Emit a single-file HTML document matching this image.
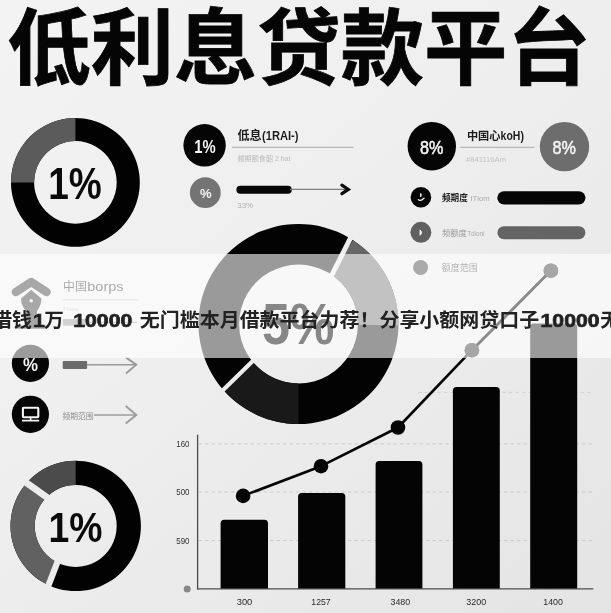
<!DOCTYPE html>
<html lang="zh-CN">
<head>
<meta charset="utf-8">
<title>低利息贷款平台</title>
<style>
html,body{margin:0;padding:0;}
body{width:611px;height:613px;overflow:hidden;position:relative;background:#e8e8e8;font-family:"Liberation Sans", sans-serif;}
#bg{position:absolute;left:0;top:0;width:611px;height:613px;
 background:
  linear-gradient(140deg, #f3f3f3 0%, #efefef 40%, #e9e9e9 75%, #e4e4e4 100%);}
svg{position:absolute;left:0;top:0;display:block;font-family:"Liberation Sans", "Noto Sans CJK SC", sans-serif;will-change:transform;}
#banner{position:absolute;left:0;top:253.6px;width:611px;height:104px;background:rgba(255,255,255,0.6);}
</style>
</head>
<body>
<div id="bg"></div>
<svg id="art" width="611" height="613" viewBox="0 0 611 613">
<text x="7.5" y="78" font-size="83.5" font-weight="700" fill="#050505" stroke="#050505" stroke-width="0.8" textLength="583" lengthAdjust="spacingAndGlyphs">低利息贷款平台</text>
<path d="M75.40 118.00A64.40 64.40 0 1 1 75.39 118.00L75.39 141.10A41.30 41.30 0 1 0 75.40 141.10Z" fill="#020202"/>
<path d="M11.00 182.40A64.40 64.40 0 0 1 75.40 118.00L75.40 141.10A41.30 41.30 0 0 0 34.10 182.40Z" fill="#5b5b5b"/>
<text x="48.2" y="198.9" font-size="44.5" font-weight="700" fill="#0a0a0a" textLength="53.6" lengthAdjust="spacingAndGlyphs">1%</text>
<circle cx="204.6" cy="145.3" r="21.2" fill="#050505"/>
<text x="194.2" y="152.5" font-size="18.6" font-weight="700" fill="#f4f4f4" textLength="21.4" lengthAdjust="spacingAndGlyphs">1%</text>
<text x="237.5" y="140.3" font-size="12.2" font-weight="700" fill="#1c1c1c" textLength="24.2" lengthAdjust="spacingAndGlyphs">低息</text>
<text x="262" y="140.3" font-size="13" font-weight="700" fill="#1c1c1c" textLength="36.5" lengthAdjust="spacingAndGlyphs">(1RAI-)</text>
<path d="M232 147.3H353.5" stroke="#aaa" stroke-width="1"/>
<text x="237.5" y="161.3" font-size="7.1" fill="#b9b9b9" textLength="35.6" lengthAdjust="spacingAndGlyphs">频期额食韶</text>
<text x="274.9" y="161.3" font-size="7" fill="#b9b9b9">2 hat</text>
<circle cx="205.3" cy="192.7" r="15.4" fill="#747474"/>
<text x="205.7" y="197.7" text-anchor="middle" font-size="13.6" font-weight="700" fill="#f4f4f4" textLength="11.6" lengthAdjust="spacingAndGlyphs">%</text>
<path d="M240.4 189.7H287.8" stroke="#060606" stroke-width="8" stroke-linecap="round"/>
<path d="M290 189.4H346" stroke="#808080" stroke-width="1.2"/>
<path d="M341.9 185.2L348.3 189.4L341.9 193.7" fill="none" stroke="#0c0c0c" stroke-width="3.2" stroke-linecap="round" stroke-linejoin="miter"/>
<text x="237.2" y="207.6" font-size="8" fill="#b0b0b0">33%</text>
<circle cx="431.8" cy="146.2" r="24.2" fill="#050505"/>
<text x="420" y="153.9" font-size="19" fill="#f4f4f4" stroke="#f4f4f4" stroke-width="0.55" textLength="23.4" lengthAdjust="spacingAndGlyphs">8%</text>
<circle cx="564.5" cy="146.6" r="24.7" fill="#6d6d6d"/>
<text x="552.4" y="154.2" font-size="19" fill="#f4f4f4" stroke="#f4f4f4" stroke-width="0.55" textLength="23.4" lengthAdjust="spacingAndGlyphs">8%</text>
<text x="466.9" y="140.2" font-size="11.3" font-weight="700" fill="#1c1c1c" textLength="33.7" lengthAdjust="spacingAndGlyphs">中国心</text>
<text x="500.6" y="140.2" font-size="12.5" font-weight="700" fill="#1c1c1c" textLength="23.3" lengthAdjust="spacingAndGlyphs">koH)</text>
<path d="M460.2 147.3H534.5" stroke="#aaa" stroke-width="1"/>
<text x="466" y="162.2" font-size="8" fill="#c2c2c2" textLength="40" lengthAdjust="spacingAndGlyphs">#841116Am</text>
<circle cx="420.9" cy="197.2" r="10.3" fill="#050505"/>
<path d="M420.8 194.1V196.3" stroke="#fff" stroke-width="1.5" stroke-linecap="round"/>
<path d="M418.3 199.6Q420.4 201.6 424 198.2" fill="none" stroke="#fff" stroke-width="1.3" stroke-linecap="round"/>
<text x="442" y="201.2" font-size="8.6" font-weight="700" fill="#222" textLength="25.8" lengthAdjust="spacingAndGlyphs">频期度</text>
<text x="470.4" y="201.2" font-size="8" fill="#aaa" textLength="19.3" lengthAdjust="spacingAndGlyphs">ITlom</text>
<path d="M503.9 197.8H578.9" stroke="#050505" stroke-width="13.2" stroke-linecap="round"/>
<circle cx="420.9" cy="232.3" r="10.5" fill="#606060"/>
<path d="M420 229.9V235.3Q423.2 232.6 420 229.9Z" fill="#fff" stroke="#fff" stroke-width="0.8" stroke-linejoin="round"/>
<text x="442" y="236.2" font-size="8.2" fill="#9a9a9a" textLength="24.8" lengthAdjust="spacingAndGlyphs">频额度</text>
<text x="467.2" y="236.2" font-size="7.8" fill="#aaa" textLength="17.2" lengthAdjust="spacingAndGlyphs">Tdioni</text>
<path d="M503.9 232.7H578.9" stroke="#646464" stroke-width="13" stroke-linecap="round"/>
<circle cx="420.6" cy="267.5" r="7.5" fill="#2c2c2c"/>
<text x="441.8" y="271" font-size="9" fill="#3a3a3a" textLength="35.8" lengthAdjust="spacingAndGlyphs">额度范围</text>
<path d="M15.9 292L31.2 282L46.5 292" fill="none" stroke="#262626" stroke-width="8.6" stroke-linecap="round" stroke-linejoin="round"/>
<path d="M31.2 289.8L41.3 298.6Q41.6 305 37 311V326H26V311Q20.8 305 21.1 298.6Z" fill="#262626"/>
<rect x="14.7" y="325.4" width="32.3" height="3.4" rx="1.5" fill="#262626"/>
<circle cx="31.2" cy="300.7" r="1.8" fill="#eee"/>
<text x="63" y="291.3" font-size="12" fill="#2a2a2a" textLength="23.8" lengthAdjust="spacingAndGlyphs">中国</text>
<text x="87.3" y="291.3" font-size="13" fill="#2a2a2a" textLength="36.3" lengthAdjust="spacingAndGlyphs">borps</text>
<path d="M62.8 299.8H138.7" stroke="#bdbdbd" stroke-width="1"/>
<text x="62.8" y="310.6" font-size="6" fill="#c2c2c2">Thala</text>
<path d="M62.8 319H86.4V325.6H62.8Z" fill="#8c8c8c"/>
<path d="M86 322.3H137" stroke="#9a9a9a" stroke-width="1.2"/>
<circle cx="30.4" cy="363.4" r="18.6" fill="#050505"/>
<text x="30.6" y="370.6" text-anchor="middle" font-size="17.6" font-weight="700" fill="#f4f4f4" textLength="15" lengthAdjust="spacingAndGlyphs">%</text>
<rect x="62.7" y="360.9" width="24.4" height="8" rx="0.8" fill="#6a6a6a"/>
<path d="M87 364.7H135.5" stroke="#9a9a9a" stroke-width="1.5"/>
<path d="M126 357.6L136.3 364.7L126 373.4" fill="none" stroke="#9a9a9a" stroke-width="1.9"/>
<circle cx="30.4" cy="414.3" r="18.6" fill="#050505"/>
<rect x="22.9" y="407.8" width="15.4" height="9.4" rx="0.6" fill="none" stroke="#f4f4f4" stroke-width="2.1"/>
<path d="M22 420.6H39.2M30.6 418V420.6" stroke="#f4f4f4" stroke-width="1.6"/>
<text x="62.6" y="418.5" font-size="7.7" fill="#8c8c8c" textLength="31" lengthAdjust="spacingAndGlyphs">频期范围</text>
<path d="M94 415H135.5" stroke="#9c9c9c" stroke-width="1.5"/>
<path d="M125.7 406L136.3 415L125.7 423.6" fill="none" stroke="#9c9c9c" stroke-width="1.9"/>
<path d="M298.50 224.00A100.00 100.00 0 1 1 298.48 224.00L298.49 264.60A59.40 59.40 0 1 0 298.50 264.60Z" fill="#030303"/>
<path d="M298.50 424.00A100.00 100.00 0 0 1 221.90 388.28L253.00 362.18A59.40 59.40 0 0 0 298.50 383.40Z" fill="#191919"/>
<path d="M352.96 240.13A100.00 100.00 0 0 1 398.49 325.40L357.89 324.83A59.40 59.40 0 0 0 330.85 274.18Z" fill="#666"/>
<path d="M331.01 276.70L351.19 236.66" stroke="#ececec" stroke-width="5.0"/>
<path d="M253.77 359.97L221.87 391.32" stroke="#ececec" stroke-width="4.2"/>
<path d="M75.70 460.70A65.20 65.20 0 1 1 75.69 460.70L75.69 484.90A41.00 41.00 0 1 0 75.70 484.90Z" fill="#020202"/>
<path d="M47.12 584.50A65.20 65.20 0 0 1 28.02 481.43L45.71 497.94A41.00 41.00 0 0 0 57.73 562.75Z" fill="#616161"/>
<path d="M28.02 481.43A65.20 65.20 0 0 1 75.70 460.70L75.70 484.90A41.00 41.00 0 0 0 45.71 497.94Z" fill="#4b4b4b"/>
<path d="M57.99 560.65L47.83 587.05" stroke="#ececec" stroke-width="6.2"/>
<path d="M48.22 498.23L24.98 481.81" stroke="#ececec" stroke-width="6.8"/>
<text x="48.6" y="542" font-size="42" font-weight="700" fill="#0a0a0a" textLength="54" lengthAdjust="spacingAndGlyphs">1%</text>
<path d="M198.5 443.9H593" stroke="#cbcbcb" stroke-width="1" stroke-dasharray="3.5 3"/>
<path d="M198.5 492.0H593" stroke="#cbcbcb" stroke-width="1" stroke-dasharray="3.5 3"/>
<path d="M198.5 540.5H593" stroke="#cbcbcb" stroke-width="1" stroke-dasharray="3.5 3"/>
<path d="M418 392.4H593" stroke="#d2d2d2" stroke-width="1" stroke-dasharray="3.5 3"/>
<path d="M220.6 588.9V523.4Q220.6 519.8 224.2 519.8H264.4Q268.0 519.8 268.0 523.4V588.9Z" fill="#040404"/>
<path d="M298.1 588.9V496.6Q298.1 493.0 301.7 493.0H341.7Q345.3 493.0 345.3 496.6V588.9Z" fill="#040404"/>
<path d="M375.6 588.9V464.7Q375.6 461.1 379.2 461.1H418.8Q422.4 461.1 422.4 464.7V588.9Z" fill="#040404"/>
<path d="M452.9 588.9V390.5Q452.9 386.9 456.5 386.9H496.2Q499.8 386.9 499.8 390.5V588.9Z" fill="#040404"/>
<path d="M530.2 588.9V327.1Q530.2 323.5 533.8 323.5H573.6Q577.2 323.5 577.2 327.1V588.9Z" fill="#040404"/>
<path d="M197.6 434.7V589.4" stroke="#4c4c4c" stroke-width="1.3"/>
<path d="M197 588.8H593.4" stroke="#4c4c4c" stroke-width="1.3"/>
<circle cx="187.2" cy="588.9" r="3.5" fill="#888"/>
<text x="176.3" y="447.2" font-size="9.3" fill="#333" textLength="13.2" lengthAdjust="spacingAndGlyphs">160</text>
<text x="176.3" y="495.3" font-size="9.3" fill="#333" textLength="13.2" lengthAdjust="spacingAndGlyphs">500</text>
<text x="176.3" y="543.8" font-size="9.3" fill="#333" textLength="13.2" lengthAdjust="spacingAndGlyphs">590</text>
<text x="236.7" y="604.6" font-size="9.8" fill="#2a2a2a" textLength="15.6" lengthAdjust="spacingAndGlyphs">300</text>
<text x="311.3" y="604.6" font-size="9.8" fill="#2a2a2a" textLength="19.4" lengthAdjust="spacingAndGlyphs">1257</text>
<text x="390.5" y="604.6" font-size="9.8" fill="#2a2a2a" textLength="19.6" lengthAdjust="spacingAndGlyphs">3480</text>
<text x="466.3" y="604.6" font-size="9.8" fill="#2a2a2a" textLength="20.0" lengthAdjust="spacingAndGlyphs">3200</text>
<text x="543.3" y="604.6" font-size="9.8" fill="#2a2a2a" textLength="19.6" lengthAdjust="spacingAndGlyphs">1400</text>
<path d="M243.1 495.9L321.0 466.2L398.0 427.5L471.9 350.2L550.9 270.7" fill="none" stroke="#050505" stroke-width="2.6" stroke-linejoin="round"/>
<circle cx="243.1" cy="495.9" r="7.3" fill="#050505"/>
<circle cx="321.0" cy="466.2" r="7.3" fill="#050505"/>
<circle cx="398.0" cy="427.5" r="7.3" fill="#050505"/>
<circle cx="471.9" cy="350.2" r="7.3" fill="#2b2b2b"/>
<circle cx="550.9" cy="270.7" r="7.3" fill="#2b2b2b"/>
</svg>
<div id="banner"></div>
<svg id="bannertext" width="611" height="613" viewBox="0 0 611 613">
<text x="261.9" y="344" font-size="56.5" font-weight="700" fill="#878787" textLength="72.5" lengthAdjust="spacingAndGlyphs">5%</text>
<path d="M468.4 353.9L550.9 270.7" stroke="#8b8b8b" stroke-width="2.6"/>
<circle cx="471.9" cy="350.2" r="7.3" fill="#a6a6a6"/>
<circle cx="550.9" cy="270.7" r="7.3" fill="#a6a6a6"/>
<text x="-7.8" y="326.5" font-size="19.8" font-weight="700" fill="#222" textLength="39.8" lengthAdjust="spacingAndGlyphs">借钱</text>
<text x="44.2" y="326.5" font-size="19.8" font-weight="700" fill="#222" textLength="19.6" lengthAdjust="spacingAndGlyphs">万</text>
<text x="139.8" y="326.5" font-size="19.8" font-weight="700" fill="#222" textLength="399.4" lengthAdjust="spacingAndGlyphs">无门槛本月借款平台力荐！分享小额网贷口子</text>
<text x="600.3" y="326.5" font-size="19.8" font-weight="700" fill="#222" textLength="19.6" lengthAdjust="spacingAndGlyphs">无</text>
<text x="33.0" y="326.9" font-size="18" font-weight="700" fill="#222" stroke="#222" stroke-width="0.7" textLength="11.78" lengthAdjust="spacingAndGlyphs">1</text>
<text x="73.3" y="326.9" font-size="18" font-weight="700" fill="#222" stroke="#222" stroke-width="0.7" textLength="58.90" lengthAdjust="spacingAndGlyphs">10000</text>
<text x="540.6" y="326.9" font-size="18" font-weight="700" fill="#222" stroke="#222" stroke-width="0.7" textLength="58.90" lengthAdjust="spacingAndGlyphs">10000</text>
</svg>
</body>
</html>
